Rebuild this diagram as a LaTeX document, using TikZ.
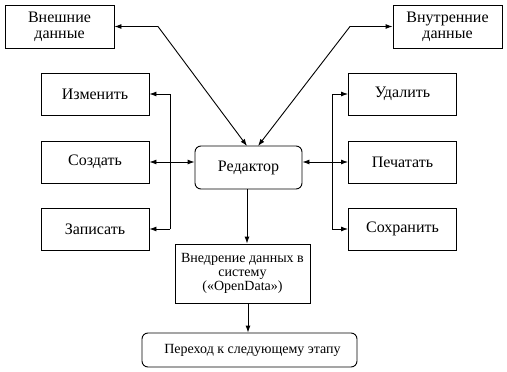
\documentclass[tikz,border=0pt]{standalone}
\usepackage{fontspec}
\setmainfont{Liberation Serif}
\usetikzlibrary{arrows.meta}
\begin{document}
\begin{tikzpicture}[x=1pt,y=-1pt,
  box/.style={draw,line width=0.9pt,minimum width=108pt,minimum height=42pt,inner sep=1pt,align=center,font=\fontsize{16}{18}\selectfont},
  sbox/.style={box,minimum width=109pt,minimum height=43pt,font=\fontsize{16}{16}\selectfont},
  rbox/.style={box,rounded corners=6pt},
  con/.style={line width=0.9pt},
  tip/.style={-{Latex[length=7pt,width=5pt]}},
  dtip/.style={{Latex[length=7pt,width=5pt]}-{Latex[length=7pt,width=5pt]}}]
\useasboundingbox (0,0) rectangle (507,372);
\node[sbox] (ext) at (59.5,26.5) {Внешние\\данные};
\node[sbox] (int) at (447.5,26.5) {Внутренние\\данные};
\node[box] (izm) at (95,94) {Изменить};
\node[box] (soz) at (95,162) {Создать};
\node[box] (zap) at (95,229) {Записать};
\node[rbox,minimum width=107pt,minimum height=43pt] (red) at (248.5,167.5) {Редактор};
\node[box] (ud) at (402.5,94) {Удалить};
\node[box] (pech) at (402.5,162) {Печатать};
\node[box] (sohr) at (402.5,229) {Сохранить};
\node[box,minimum width=135pt,minimum height=59pt,font=\fontsize{14}{14}\selectfont] (vned) at (242.5,273.5) {Внедрение данных в\\систему\\(«OpenData»)};
\node[rbox,minimum width=215pt,minimum height=34pt,font=\fontsize{14}{16}\selectfont] (per) at (249.5,350) {\hspace{6pt}Переход к следующему этапу};
% top connectors
\coordinate (e1) at (158,26.5);
\coordinate (e2) at (247,146);
\coordinate (i1) at (350,26.5);
\coordinate (i2) at (258,146);
\draw[con,dtip] (ext.east) -- (e1) -- (e2);
\draw[con,dtip] (int.west) -- (i1) -- (i2);
% left bus
\coordinate (lt) at (170,94);
\coordinate (lb) at (170,229);
\draw[con] (lt) -- (lb);
\draw[con,tip] (lt) -- (izm.east);
\draw[con,tip] (lb) -- (zap.east);
\draw[con,dtip] (soz.east) -- (soz.east -| red.west);
% right bus
\coordinate (rt) at (332,94);
\coordinate (rb) at (332,229);
\draw[con] (rt) -- (rb);
\draw[con,tip] (rt) -- (ud.west);
\draw[con,tip] (rb) -- (sohr.west);
\draw[con,dtip] (pech.west -| red.east) -- (pech.west);
% bottom
\draw[con,tip] (red.south -| 247,0) -- (vned.north -| 247,0);
\draw[con,tip] (vned.south -| 248,0) -- (per.north -| 248,0);
\end{tikzpicture}
\end{document}
